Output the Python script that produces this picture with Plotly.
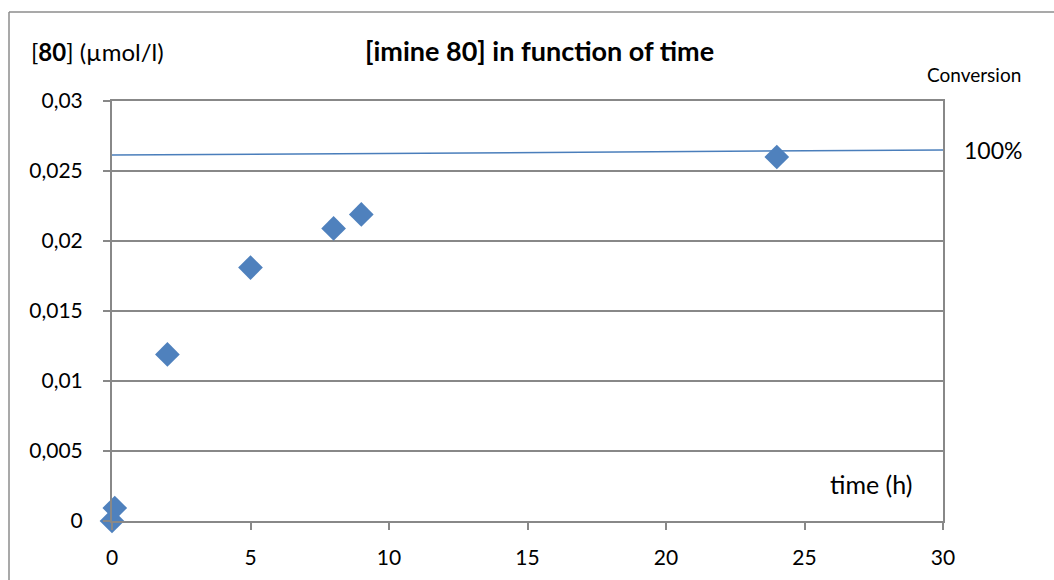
import plotly.graph_objects as go

# Data
time_h = [0, 0.1, 2, 5, 8, 9, 24]
imine_conc = [0.0, 0.00093, 0.0119, 0.0181, 0.0209, 0.0219, 0.0260]
conv_x = [0, 30]
conv_y = [0.02614, 0.0265]
y_ticks = [0, 0.005, 0.01, 0.015, 0.02, 0.025, 0.03]
y_tick_labels = ["0", "0,005", "0,01", "0,015", "0,02", "0,025", "0,03"]
x_ticks = [0, 5, 10, 15, 20, 25, 30]

FONT = "Lato, Calibri, Carlito, sans-serif"
GRID = "#888888"

W, H = 1054, 580
L, R, T, B = 112, 943, 101, 521

def px(x):
    return (x - L) / (R - L)

def py(y):
    return (B - y) / (B - T)

fig = go.Figure()
fig.add_trace(go.Scatter(x=conv_x, y=conv_y, mode="lines",
                         line=dict(color="#4a7ebb", width=1.5),
                         showlegend=False, hoverinfo="skip"))
fig.add_trace(go.Scatter(x=time_h, y=imine_conc, mode="markers",
                         marker=dict(symbol="diamond", size=19, color="#4f81bd",
                                     line=dict(width=0)),
                         showlegend=False, cliponaxis=False))

fig.update_layout(
    width=W, height=H,
    margin=dict(l=L, r=W - R, t=T, b=H - B),
    paper_bgcolor="white", plot_bgcolor="white",
    separators=", ",
    font=dict(family=FONT, size=21, color="black"),
    showlegend=False,
    xaxis=dict(range=[0, 30], tickvals=x_ticks, showgrid=False, zeroline=False,
               showline=True, linecolor=GRID, linewidth=2, mirror=True,
               ticks="outside", ticklen=7, tickcolor=GRID, tickwidth=1.5,
               ticklabelstandoff=10,
               tickfont=dict(family=FONT, size=21), fixedrange=True),
    yaxis=dict(range=[0, 0.03], tickvals=y_ticks, ticktext=y_tick_labels,
               showgrid=True, gridcolor=GRID, gridwidth=1.5, zeroline=False,
               showline=True, linecolor=GRID, linewidth=2, mirror=True,
               ticks="outside", ticklen=7, tickcolor=GRID, tickwidth=1.5,
               ticklabelstandoff=16,
               tickfont=dict(family=FONT, size=21), fixedrange=True),
)

ann = [
    dict(text="[<b>80</b>] (µmol/l)", x=px(29), y=py(52), xanchor="left", size=24),
    dict(text="<b>[imine 80] in function of time</b>", x=px(539), y=py(51), xanchor="center", size=27),
    dict(text="Conversion", x=px(1023), y=py(74), xanchor="right", size=19),
    dict(text="100%", x=px(1024), y=py(150), xanchor="right", size=23),
    dict(text="time (h)", x=px(914), y=py(484), xanchor="right", size=25),
]
for a in ann:
    s = a.pop("size")
    fig.add_annotation(xref="paper", yref="paper", yanchor="middle",
                       showarrow=False, font=dict(family=FONT, size=s, color="black"),
                       **a)

# outer chart border (partially visible)
fig.add_shape(type="line", xref="paper", yref="paper",
              x0=px(9), x1=px(1060), y0=py(12), y1=py(12),
              line=dict(color="#8c8c8c", width=1.5))
fig.add_shape(type="line", xref="paper", yref="paper",
              x0=px(9), x1=px(9), y0=py(12), y1=py(590),
              line=dict(color="#8c8c8c", width=1.5))

fig.write_html("out.html", config={"displayModeBar": False},
               post_script="document.body.style.margin='0px';")
